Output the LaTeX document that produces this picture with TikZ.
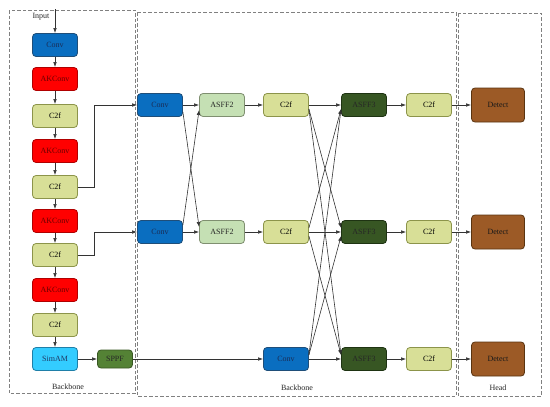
\documentclass[tikz,border=0pt]{standalone}
\usepackage{fontspec}
\setmainfont{Liberation Serif}
\usetikzlibrary{arrows.meta,calc}
\definecolor{convblue}{HTML}{0A6EC0}
\definecolor{convbd}{HTML}{1F4E79}
\definecolor{convtx}{HTML}{1A2C55}
\definecolor{akred}{HTML}{FF0000}
\definecolor{akbd}{HTML}{B00000}
\definecolor{aktx}{HTML}{6A0000}
\definecolor{cf}{HTML}{D8DF97}
\definecolor{cfbd}{HTML}{8C944A}
\definecolor{sim}{HTML}{33CCFF}
\definecolor{simbd}{HTML}{1F7FA8}
\definecolor{simtx}{HTML}{1F3864}
\definecolor{sppf}{HTML}{548235}
\definecolor{sppfbd}{HTML}{385723}
\definecolor{asa}{HTML}{C5E0B4}
\definecolor{asabd}{HTML}{7F8F70}
\definecolor{asb}{HTML}{375623}
\definecolor{asbbd}{HTML}{1E3312}
\definecolor{det}{HTML}{9C5A26}
\definecolor{detbd}{HTML}{5A3410}
\definecolor{ln}{HTML}{333333}
\begin{document}
\begin{tikzpicture}[x=1pt,y=-1pt,
  blk/.style={draw, rounded corners=3.5pt, minimum width=45pt, minimum height=23pt, inner sep=0pt, font=\fontsize{8}{9}\selectfont, line width=0.8pt},
  convs/.style={blk, fill=convblue, draw=convbd, text=convtx},
  aks/.style={blk, fill=akred, draw=akbd, text=aktx},
  cfs/.style={blk, fill=cf, draw=cfbd, text=black},
  sims/.style={blk, fill=sim, draw=simbd, text=simtx},
  sppfs/.style={blk, fill=sppf, draw=sppfbd, text=black!85, minimum width=35pt, minimum height=18pt},
  asas/.style={blk, fill=asa, draw=asabd, text=black!85},
  asbs/.style={blk, fill=asb, draw=asbbd, text=black!85},
  dets/.style={blk, fill=det, draw=detbd, text=black!90, minimum width=53pt, minimum height=34pt},
  arr/.style={-{Latex[length=5pt,width=3.5pt]}, line width=0.6pt, draw=ln},
  frame/.style={draw=gray, line width=0.7pt, dash pattern=on 3.5pt off 2pt},
  lbl/.style={font=\fontsize{8}{9}\selectfont, text=black!85, inner sep=1pt}
]
\useasboundingbox (0,0) rectangle (550,407);
% frames
\draw[frame] (9,10) rectangle (135,393);
\draw[frame] (137,12) rectangle (456,396);
\draw[frame] (458,13) rectangle (541,396);
\node[lbl] (lb1) at (68,387) {Backbone};
\node[lbl] (lb2) at (297,388) {Backbone};
\node[lbl] (lb3) at (498,388) {Head};
% left column
\node[lbl] (inp) at (41,17) {Input};
\coordinate (intop) at (55,9);
\node[convs] (l1) at (55,45) {Conv};
\node[aks] (l2) at (55,79) {AKConv};
\node[cfs] (l3) at (55,116) {C2f};
\node[aks] (l4) at (55,151) {AKConv};
\node[cfs] (l5) at (55,187) {C2f};
\node[aks] (l6) at (55,221) {AKConv};
\node[cfs] (l7) at (55,255) {C2f};
\node[aks] (l8) at (55,290) {AKConv};
\node[cfs] (l9) at (55,325) {C2f};
\node[sims] (l10) at (55,359) {SimAM};
\node[sppfs] (sp) at (115,359) {SPPF};
% middle
\node[convs] (m1) at (160,105) {Conv};
\node[convs] (m2) at (160,232) {Conv};
\node[asas] (a1) at (222,105) {ASFF2};
\node[asas] (a2) at (222,232) {ASFF2};
\node[cfs] (c1) at (286,105) {C2f};
\node[cfs] (c2) at (286,232) {C2f};
\node[convs] (m3) at (286,359) {Conv};
\node[asbs] (b1) at (364,105) {ASFF3};
\node[asbs] (b2) at (364,232) {ASFF3};
\node[asbs] (b3) at (364,359) {ASFF3};
\node[cfs] (d1) at (429,105) {C2f};
\node[cfs] (d2) at (429,232) {C2f};
\node[cfs] (d3) at (429,359) {C2f};
\node[dets] (h1) at (498,105) {Detect};
\node[dets] (h2) at (498,232) {Detect};
\node[dets] (h3) at (498,359) {Detect};
% left connectors
\draw[arr] (intop) -- (l1);
\draw[arr] (l1) -- (l2);
\draw[arr] (l2) -- (l3);
\draw[arr] (l3) -- (l4);
\draw[arr] (l4) -- (l5);
\draw[arr] (l5) -- (l6);
\draw[arr] (l6) -- (l7);
\draw[arr] (l7) -- (l8);
\draw[arr] (l8) -- (l9);
\draw[arr] (l9) -- (l10);
\draw[arr] (l10) -- (sp);
\draw[arr] (l5.east) -- ++(16,0) |- (m1.west);
\draw[arr] (l7.east) -- ++(16,0) |- (m2.west);
\draw[arr] (sp.east) -- (m3.west);
% middle connectors
\draw[arr] (m1) -- (a1);
\draw[arr] (m2) -- (a2);
\draw[arr] ([yshift=-7pt]m1.east) -- ([yshift=5pt]a2.west);
\draw[arr] ([yshift=7pt]m2.east) -- ([yshift=-5pt]a1.west);
\draw[arr] (a1) -- (c1);
\draw[arr] (a2) -- (c2);
\draw[arr] (c1) -- (b1);
\draw[arr] (c2) -- (b2);
\draw[arr] (m3) -- (b3);
\draw[arr] ([yshift=-4pt]c1.east) -- ([yshift=4pt]b2.west);
\draw[arr] ([yshift=-4pt]c1.east) -- ([yshift=4pt]b3.west);
\draw[arr] ([yshift=4pt]c2.east) -- ([yshift=-4pt]b1.west);
\draw[arr] ([yshift=-4pt]c2.east) -- ([yshift=4pt]b3.west);
\draw[arr] ([yshift=4pt]m3.east) -- ([yshift=-4pt]b1.west);
\draw[arr] ([yshift=4pt]m3.east) -- ([yshift=-4pt]b2.west);
\draw[arr] (b1) -- (d1);
\draw[arr] (b2) -- (d2);
\draw[arr] (b3) -- (d3);
\draw[arr] (d1) -- (h1);
\draw[arr] (d2) -- (h2);
\draw[arr] (d3) -- (h3);
\end{tikzpicture}
\end{document}
